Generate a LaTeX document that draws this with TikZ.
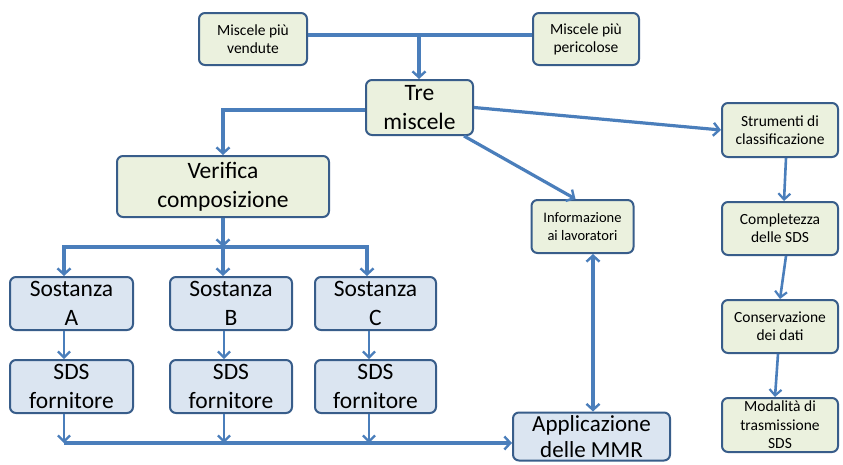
\documentclass[tikz,border=0pt]{standalone}
\usepackage{fontspec}
\setmainfont{Carlito}
\usetikzlibrary{arrows.meta,calc}
\definecolor{lnblue}{HTML}{4A7EBB}
\definecolor{bdblue}{HTML}{385D8A}
\definecolor{gfill}{HTML}{EBF1DE}
\definecolor{bfill}{HTML}{DBE5F1}
\tikzset{
  box/.style={draw=bdblue,line width=2pt,rounded corners=6pt,align=center,inner sep=0pt,anchor=center},
  gbox/.style={box,fill=gfill},
  bbox/.style={box,fill=bfill},
  small/.style={font=\fontsize{15.5}{18}\selectfont},
  big/.style={font=\fontsize{23.5}{29}\selectfont},
  conn/.style={draw=lnblue,line width=3.2pt},
  arr/.style={conn,-{Straight Barb[length=6pt,width=13pt,line width=2.4pt]}},
  arrs/.style={draw=lnblue,line width=2.6pt,-{Straight Barb[length=6pt,width=12pt,line width=2.2pt]}},
}
\begin{document}
\begin{tikzpicture}[x=1pt,y=-1pt]
\useasboundingbox[fill=white] (0,0) rectangle (843,464);
% top
\node[gbox,small,minimum width=108pt,minimum height=52pt] (mv) at (253,39) {Miscele più\\vendute};
\node[gbox,small,minimum width=106pt,minimum height=52pt] (mp) at (586,39) {Miscele più\\pericolose};
\node[gbox,big,minimum width=107pt,minimum height=55pt] (tre) at (419.5,107.5) {Tre\\miscele};
\node[gbox,big,minimum width=212pt,minimum height=61pt] (ver) at (223,186.5) {Verifica\\composizione};
% substances
\node[bbox,big,minimum width=123pt,minimum height=53pt] (sa) at (71.5,303.5) {Sostanza\\A};
\node[bbox,big,minimum width=122pt,minimum height=53pt] (sb) at (231,303.5) {Sostanza\\B};
\node[bbox,big,minimum width=121pt,minimum height=53pt] (sc) at (375.5,303.5) {Sostanza\\C};
\node[bbox,big,minimum width=123pt,minimum height=53pt] (fa) at (71.5,386.5) {SDS\\fornitore};
\node[bbox,big,minimum width=122pt,minimum height=53pt] (fb) at (231,386.5) {SDS\\fornitore};
\node[bbox,big,minimum width=121pt,minimum height=53pt] (fc) at (375.5,386.5) {SDS\\fornitore};
\node[bbox,font=\fontsize{23}{26}\selectfont,minimum width=157pt,minimum height=48pt] (app) at (591.5,436.5) {Applicazione\\delle MMR};
\node[gbox,font=\fontsize{14.5}{18}\selectfont,minimum width=102pt,minimum height=53pt] (inf) at (582.5,226.5) {Informazione\\ai lavoratori};
% right column
\node[gbox,small,minimum width=116pt,minimum height=54pt] (st) at (780,130) {Strumenti di\\classificazione};
\node[gbox,small,minimum width=116pt,minimum height=53pt] (co) at (780,228.5) {Completezza\\delle SDS};
\node[gbox,small,minimum width=116pt,minimum height=53pt] (cn) at (780,326.5) {Conservazione\\dei dati};
\node[gbox,minimum width=116pt,minimum height=54pt,font=\fontsize{15.5}{18.5}\selectfont] (mo) at (780,425) {Modalità di\\trasmissione\\SDS};
% coordinates
\coordinate (jt) at (419,35);
\coordinate (tl) at (223,110);
\coordinate (vb) at (223,247);
\coordinate (bA) at (64,247);
\coordinate (bB) at (223,247);
\coordinate (bC) at (367,247);
\coordinate (gA) at (64,443);
\coordinate (gB) at (224,443);
\coordinate (gC) at (369,443);
\coordinate (dx) at (593,0);
% connectors top
\draw[conn] (mv.east |- jt) -- (mp.west |- jt);
\draw[arr] (jt) -- (jt |- tre.north);
\draw[arr] (tre.west |- tl) -- (tl) -- (tl |- ver.north);
\draw[arr] (ver.south) -- (vb);
\draw[conn,line cap=rect] (bA) -- (bC);
\draw[arr] (bA) -- (bA |- sa.north);
\draw[arr] (bB) -- (bB |- sb.north);
\draw[arr] (bC) -- (bC |- sc.north);
\draw[arrs] (gA |- sa.south) -- (gA |- fa.north);
\draw[arrs] (gB |- sb.south) -- (gB |- fb.north);
\draw[arrs] (gC |- sc.south) -- (gC |- fc.north);
\draw[arrs] (gA |- fa.south) -- (gA);
\draw[arrs] (gB |- fb.south) -- (gB);
\draw[arrs] (gC |- fc.south) -- (gC);
\draw[arr] (gA) -- (gA -| app.west);
\draw[draw=lnblue,line width=3.2pt,{Straight Barb[length=6pt,width=13pt,line width=2.4pt]}-{Straight Barb[length=6pt,width=13pt,line width=2.4pt]}] (dx |- inf.south) -- (dx |- app.north);
\draw[arr] ($(tre.south east)+(-10,0)$) -- ($(inf.north)+(-7,0)$);
\draw[arr] (tre.east) -- (st.west);
% right column
\draw[arrs] ($(st.south)+(6,0)$) -- ($(co.north)+(4,0)$);
\draw[arrs] ($(co.south)+(6,0)$) -- (co.south |- cn.north);
\draw[arrs] ($(cn.south)+(-2,0)$) -- ($(mo.north)+(-5,0)$);
\end{tikzpicture}
\end{document}
